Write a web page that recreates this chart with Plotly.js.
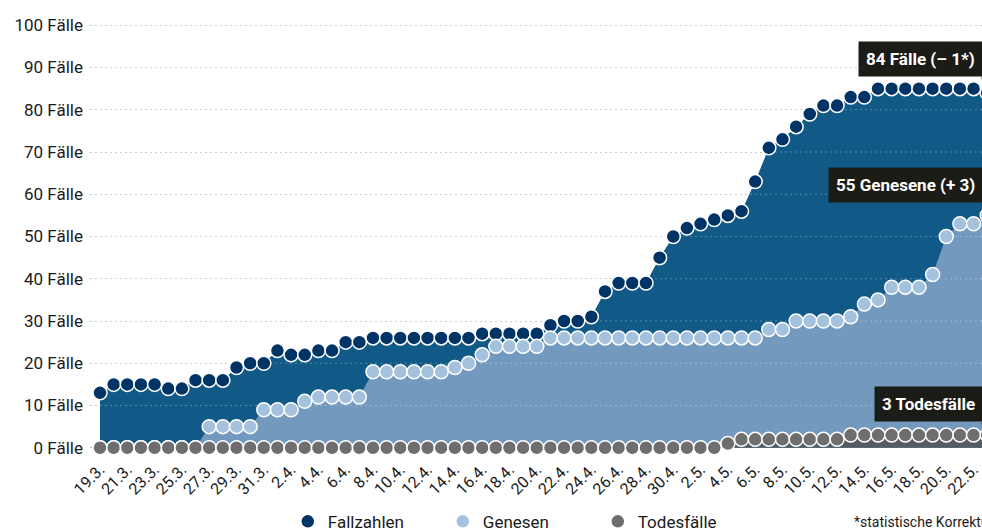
<!DOCTYPE html>
<html>
<head>
<meta charset="utf-8">
<script src="https://cdn.plot.ly/plotly-3.0.1.min.js"></script>
<style>
  html, body { margin: 0; padding: 0; overflow: hidden; background: #fff; }
  #chart { width: 1010px; height: 532px; }
</style>
</head>
<body>
<div id="chart"></div>
<script>
// ---- Data ----
const dates = [
  '19.3.','20.3.','21.3.','22.3.','23.3.','24.3.','25.3.','26.3.','27.3.','28.3.','29.3.','30.3.','31.3.',
  '1.4.','2.4.','3.4.','4.4.','5.4.','6.4.','7.4.','8.4.','9.4.','10.4.','11.4.','12.4.','13.4.','14.4.','15.4.',
  '16.4.','17.4.','18.4.','19.4.','20.4.','21.4.','22.4.','23.4.','24.4.','25.4.','26.4.','27.4.','28.4.','29.4.','30.4.',
  '1.5.','2.5.','3.5.','4.5.','5.5.','6.5.','7.5.','8.5.','9.5.','10.5.','11.5.','12.5.','13.5.','14.5.','15.5.',
  '16.5.','17.5.','18.5.','19.5.','20.5.','21.5.','22.5.','23.5.'
];
const tickDates = [
  '19.3.','21.3.','23.3.','25.3.','27.3.','29.3.','31.3.','2.4.','4.4.','6.4.','8.4.','10.4.','12.4.','14.4.',
  '16.4.','18.4.','20.4.','22.4.','24.4.','26.4.','28.4.','30.4.','2.5.','4.5.','6.5.','8.5.','10.5.','12.5.',
  '14.5.','16.5.','18.5.','20.5.','22.5.'
];
const fallzahlen = [
  13,15,15,15,15,14,14,16,16,16,
  19,20,20,23,22,22,23,23,25,25,
  26,26,26,26,26,26,26,26,27,27,
  27,27,27,29,30,30,31,37,39,39,
  39,45,50,52,53,54,55,56,63,71,
  73,76,79,81,81,83,83,85,85,85,
  85,85,85,85,85,84
];
const genesen = [
  0,0,0,0,0,0,0,0,5,5,
  5,5,9,9,9,11,12,12,12,12,
  18,18,18,18,18,18,19,20,22,24,
  24,24,24,26,26,26,26,26,26,26,
  26,26,26,26,26,26,26,26,26,28,
  28,30,30,30,30,31,34,35,38,38,
  38,41,50,53,53,55
];
const todesfaelle = [
  0,0,0,0,0,0,0,0,0,0,
  0,0,0,0,0,0,0,0,0,0,
  0,0,0,0,0,0,0,0,0,0,
  0,0,0,0,0,0,0,0,0,0,
  0,0,0,0,0,0,1,2,2,2,
  2,2,2,2,2,3,3,3,3,3,
  3,3,3,3,3,3
];
const yTicks = [0,10,20,30,40,50,60,70,80,90,100];
const yTickText = ['0 Fälle','10 Fälle','20 Fälle','30 Fälle','40 Fälle','50 Fälle',
                   '60 Fälle','70 Fälle','80 Fälle','90 Fälle','100 Fälle'];
const seriesNames = ['Fallzahlen','Genesen','Todesfälle'];
const labelFall = '84 Fälle (– 1*)';
const labelGen = '55 Genesene (+ 3)';
const labelTod = '3 Todesfälle';
const footnote = '*statistische Korrektur';

// ---- Styles ----
const FONT = 'Roboto, "Open Sans", sans-serif';
const areaColors = ['#115a88', '#7399be', '#565b61'];
const markerColors = ['#003366', '#a4c2de', '#6e6e6e'];
const series = [fallzahlen, genesen, todesfaelle];
const last = dates.length - 1;

const traces = [];
// filled areas
series.forEach((s, i) => {
  traces.push({
    type: 'scatter', mode: 'lines', x: dates, y: s,
    fill: 'tozeroy', fillcolor: areaColors[i],
    line: { width: 0, color: areaColors[i] },
    hoverinfo: 'skip', showlegend: false
  });
});
// light dotted grid visible on top of the filled areas
yTicks.filter(v => v > 0).forEach(v => {
  traces.push({
    type: 'scatter', mode: 'lines',
    x: [dates[0], dates[last]], y: [v, v],
    line: { color: 'rgba(255,255,255,0.28)', width: 1, dash: '2px,3px' },
    hoverinfo: 'skip', showlegend: false
  });
});
// markers
series.forEach((s, i) => {
  traces.push({
    type: 'scatter', mode: 'markers', x: dates, y: s, name: seriesNames[i],
    marker: { size: 14, color: markerColors[i], line: { color: '#ffffff', width: 1.5 } }
  });
});

function boxAnno(yVal, text, ay) {
  return {
    x: dates[last], y: yVal, xref: 'x', yref: 'y',
    text: text, showarrow: true, arrowhead: 0, arrowwidth: 4, arrowcolor: '#1c1c17',
    ax: -4, ay: ay, standoff: 6,
    xanchor: 'right', yanchor: 'bottom',
    bgcolor: '#1c1c17', borderpad: 7,
    font: { family: FONT, size: 17, color: '#ffffff', weight: 'bold' }
  };
}

const layout = {
  width: 1010, height: 532,
  margin: { l: 90, r: 0, t: 20, b: 76, autoexpand: false },
  paper_bgcolor: '#ffffff', plot_bgcolor: '#ffffff',
  font: { family: FONT, color: '#1a1a1a' },
  showlegend: true,
  legend: {
    orientation: 'h', x: 0.215, xanchor: 'left',
    yref: 'container', y: 0.053, yanchor: 'top',
    font: { family: FONT, size: 17, color: '#1a1a1a' },
    itemsizing: 'trace', entrywidth: 110
  },
  xaxis: {
    type: 'category', categoryorder: 'array', categoryarray: dates,
    range: [-0.733, 66.67], automargin: false,
    tickmode: 'array', tickvals: tickDates, ticktext: tickDates,
    tickangle: -45, ticks: '', showgrid: false, zeroline: false, showline: false,
    tickfont: { family: FONT, size: 16, color: '#1a1a1a' }
  },
  yaxis: {
    range: [-1.95, 101.25], automargin: false,
    tickmode: 'array', tickvals: yTicks, ticktext: yTickText, ticklabelstandoff: 6,
    showgrid: true, gridcolor: '#c4c4c4', gridwidth: 1, griddash: '2px,3px',
    zeroline: false, showline: false, ticks: '',
    tickfont: { family: FONT, size: 17, color: '#1a1a1a' }
  },
  annotations: [
    boxAnno(fallzahlen[last], labelFall, -16),
    boxAnno(genesen[last], labelGen, -12),
    boxAnno(todesfaelle[last], labelTod, -13),
    {
      xref: 'paper', yref: 'paper', x: 0.828, y: -0.151, xanchor: 'left', yanchor: 'middle',
      text: footnote, showarrow: false,
      font: { family: FONT, size: 14, color: '#1a1a1a' }
    }
  ]
};

Plotly.newPlot('chart', traces, layout, { displayModeBar: false, staticPlot: true });
</script>
</body>
</html>
